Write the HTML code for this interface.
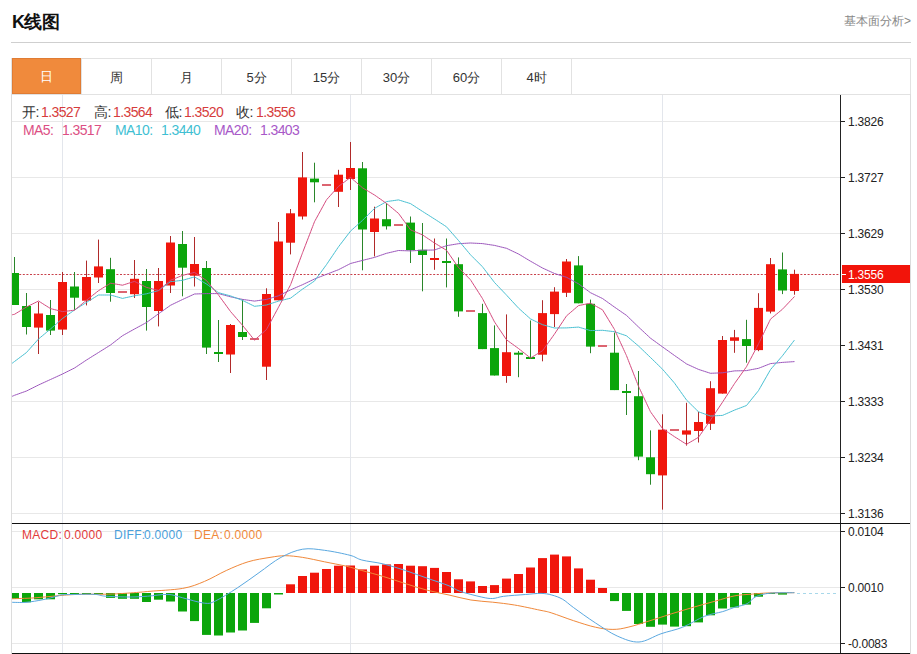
<!DOCTYPE html>
<html><head><meta charset="utf-8"><style>
*{margin:0;padding:0;box-sizing:border-box}
html,body{width:917px;height:654px;overflow:hidden;background:#fff;font-family:"Liberation Sans",sans-serif;color:#333}
#title{position:absolute;left:12px;top:11px;font-size:18px;letter-spacing:-0.6px;font-weight:bold;color:#111;line-height:22px}
#more{position:absolute;left:844px;top:13px;font-size:12px;color:#888;line-height:16px}
#hr{position:absolute;left:11px;top:42px;width:900px;height:1px;background:#cfcfcf}
#tabs{position:absolute;left:11px;top:58px;width:900px;height:37px;border:1px solid #e2e2e2;display:flex}
.tab{width:70px;height:35px;border-right:1px solid #e2e2e2;text-align:center;font-size:13px;line-height:37px;color:#333}
.tab.on{background:#f08a3c;color:#fff;position:relative}
#onbox{position:absolute;left:12px;top:58px;width:69px;height:36px;background:#f08a3c;border:1px solid #e07c34;color:#fff;text-align:center;font-size:13px;line-height:36px}
#frame{position:absolute;left:11px;top:94px;width:900px;height:560px;border-left:1px solid #dcdcdc;border-right:1px solid #dcdcdc}
svg{position:absolute;left:0;top:0}
.ax{font-size:12px;fill:#222;font-family:"Liberation Sans",sans-serif;letter-spacing:-0.2px}
.lg{position:absolute;font-size:14px;letter-spacing:-0.6px;line-height:16px;white-space:pre}
.ml{font-size:12px !important;letter-spacing:0.3px !important}
.k{color:#333} .r{color:#d63c3c}
</style></head><body>
<div id="title">K线图</div>
<div id="more">基本面分析&gt;</div>
<div id="hr"></div>
<div id="tabs"><div class="tab on">日</div><div class="tab">周</div><div class="tab">月</div><div class="tab">5分</div><div class="tab">15分</div><div class="tab">30分</div><div class="tab">60分</div><div class="tab">4时</div></div>
<div id="onbox">日</div>
<div id="frame"></div>
<svg width="917" height="654" viewBox="0 0 917 654">
<defs><clipPath id="cm"><rect x="12" y="95" width="828" height="428"/></clipPath><clipPath id="cd"><rect x="12" y="524" width="828" height="129"/></clipPath></defs>
<line x1="12" y1="121.5" x2="840" y2="121.5" stroke="#e8e8e8" stroke-width="1"/>
<line x1="12" y1="177.5" x2="840" y2="177.5" stroke="#e8e8e8" stroke-width="1"/>
<line x1="12" y1="233.5" x2="840" y2="233.5" stroke="#e8e8e8" stroke-width="1"/>
<line x1="12" y1="289.5" x2="840" y2="289.5" stroke="#e8e8e8" stroke-width="1"/>
<line x1="12" y1="345.5" x2="840" y2="345.5" stroke="#e8e8e8" stroke-width="1"/>
<line x1="12" y1="401.5" x2="840" y2="401.5" stroke="#e8e8e8" stroke-width="1"/>
<line x1="12" y1="457.5" x2="840" y2="457.5" stroke="#e8e8e8" stroke-width="1"/>
<line x1="12" y1="513.5" x2="840" y2="513.5" stroke="#e8e8e8" stroke-width="1"/>
<line x1="12" y1="531.5" x2="840" y2="531.5" stroke="#e8e8e8" stroke-width="1"/>
<line x1="12" y1="587.5" x2="840" y2="587.5" stroke="#e8e8e8" stroke-width="1"/>
<line x1="12" y1="643.5" x2="840" y2="643.5" stroke="#e8e8e8" stroke-width="1"/>
<line x1="62.5" y1="95" x2="62.5" y2="653" stroke="#e3e6ec" stroke-width="1"/>
<line x1="350.5" y1="95" x2="350.5" y2="653" stroke="#e3e6ec" stroke-width="1"/>
<line x1="662.5" y1="95" x2="662.5" y2="653" stroke="#e3e6ec" stroke-width="1"/>
<line x1="12" y1="274.5" x2="840" y2="274.5" stroke="#c8404a" stroke-width="1" stroke-dasharray="2,1.6"/>
<g clip-path="url(#cm)">
<rect x="14" y="257" width="1" height="48" fill="#2a862a"/>
<rect x="10" y="273" width="9" height="32" fill="#0ba50b"/>
<rect x="26" y="293" width="1" height="41.5" fill="#2a862a"/>
<rect x="22" y="306" width="9" height="21" fill="#0ba50b"/>
<rect x="38" y="302" width="1" height="52" fill="#b02a2a"/>
<rect x="34" y="313.5" width="9" height="14.1" fill="#f0160c"/>
<rect x="50" y="300" width="1" height="35" fill="#2a862a"/>
<rect x="46" y="315" width="9" height="15.6" fill="#0ba50b"/>
<rect x="62" y="272" width="1" height="63" fill="#b02a2a"/>
<rect x="58" y="282" width="9" height="47.6" fill="#f0160c"/>
<rect x="74" y="272" width="1" height="38" fill="#2a862a"/>
<rect x="70" y="286.5" width="9" height="11.2" fill="#0ba50b"/>
<rect x="86" y="260.6" width="1" height="44.8" fill="#b02a2a"/>
<rect x="82" y="277" width="9" height="23.7" fill="#f0160c"/>
<rect x="98" y="239.6" width="1" height="43.4" fill="#b02a2a"/>
<rect x="94" y="266.4" width="9" height="11.1" fill="#f0160c"/>
<rect x="110" y="257.8" width="1" height="43.9" fill="#2a862a"/>
<rect x="106" y="269.2" width="9" height="23.8" fill="#0ba50b"/>
<rect x="118" y="291" width="9" height="2" fill="#dc6470"/>
<rect x="134" y="260" width="1" height="38" fill="#b02a2a"/>
<rect x="130" y="278.8" width="9" height="15.4" fill="#f0160c"/>
<rect x="146" y="269" width="1" height="61.6" fill="#2a862a"/>
<rect x="142" y="281" width="9" height="26" fill="#0ba50b"/>
<rect x="158" y="268" width="1" height="58.4" fill="#b02a2a"/>
<rect x="154" y="281" width="9" height="30" fill="#f0160c"/>
<rect x="170" y="236" width="1" height="57" fill="#b02a2a"/>
<rect x="166" y="242.5" width="9" height="43" fill="#f0160c"/>
<rect x="182" y="231" width="1" height="65.3" fill="#2a862a"/>
<rect x="178" y="244" width="9" height="23.7" fill="#0ba50b"/>
<rect x="194" y="237" width="1" height="49.5" fill="#b02a2a"/>
<rect x="190" y="264" width="9" height="11.7" fill="#f0160c"/>
<rect x="206" y="261" width="1" height="93" fill="#2a862a"/>
<rect x="202" y="268" width="9" height="79.6" fill="#0ba50b"/>
<rect x="218" y="320" width="1" height="42" fill="#2a862a"/>
<rect x="214" y="352" width="9" height="2" fill="#0ba50b"/>
<rect x="230" y="324" width="1" height="49" fill="#b02a2a"/>
<rect x="226" y="325" width="9" height="29.5" fill="#f0160c"/>
<rect x="242" y="299.5" width="1" height="40.5" fill="#2a862a"/>
<rect x="238" y="332" width="9" height="5" fill="#0ba50b"/>
<rect x="250" y="338" width="9" height="2" fill="#dc6470"/>
<rect x="266" y="288.3" width="1" height="91.7" fill="#b02a2a"/>
<rect x="262" y="294" width="9" height="72.7" fill="#f0160c"/>
<rect x="278" y="222" width="1" height="78.3" fill="#b02a2a"/>
<rect x="274" y="241.5" width="9" height="58.8" fill="#f0160c"/>
<rect x="290" y="209" width="1" height="45.4" fill="#b02a2a"/>
<rect x="286" y="213.3" width="9" height="29.4" fill="#f0160c"/>
<rect x="302" y="152" width="1" height="67.5" fill="#b02a2a"/>
<rect x="298" y="177.4" width="9" height="39.1" fill="#f0160c"/>
<rect x="314" y="162.7" width="1" height="39.6" fill="#2a862a"/>
<rect x="310" y="178.6" width="9" height="3.7" fill="#0ba50b"/>
<rect x="322" y="184" width="9" height="2" fill="#dc6470"/>
<rect x="338" y="169.8" width="1" height="37.2" fill="#b02a2a"/>
<rect x="334" y="174.7" width="9" height="17.1" fill="#f0160c"/>
<rect x="350" y="142" width="1" height="48" fill="#b02a2a"/>
<rect x="346" y="168" width="9" height="11" fill="#f0160c"/>
<rect x="362" y="162" width="1" height="108.3" fill="#2a862a"/>
<rect x="358" y="168.3" width="9" height="61.2" fill="#0ba50b"/>
<rect x="374" y="206.7" width="1" height="49.7" fill="#b02a2a"/>
<rect x="370" y="218.5" width="9" height="13.5" fill="#f0160c"/>
<rect x="386" y="203.3" width="1" height="26.2" fill="#2a862a"/>
<rect x="382" y="219.2" width="9" height="7.1" fill="#0ba50b"/>
<rect x="394" y="224" width="9" height="2" fill="#dc6470"/>
<rect x="410" y="216.5" width="1" height="46.5" fill="#2a862a"/>
<rect x="406" y="222.6" width="9" height="27.6" fill="#0ba50b"/>
<rect x="422" y="223" width="1" height="68.3" fill="#2a862a"/>
<rect x="418" y="249.8" width="9" height="5.2" fill="#0ba50b"/>
<rect x="434" y="238.5" width="1" height="31.3" fill="#b02a2a"/>
<rect x="430" y="258" width="9" height="2" fill="#f0160c"/>
<rect x="446" y="238.5" width="1" height="48.9" fill="#2a862a"/>
<rect x="442" y="261" width="9" height="2" fill="#0ba50b"/>
<rect x="458" y="257.4" width="1" height="59.4" fill="#2a862a"/>
<rect x="454" y="264.2" width="9" height="47.2" fill="#0ba50b"/>
<rect x="466" y="310" width="9" height="2" fill="#dc6470"/>
<rect x="482" y="303.8" width="1" height="45.3" fill="#2a862a"/>
<rect x="478" y="313.1" width="9" height="36" fill="#0ba50b"/>
<rect x="494" y="325.4" width="1" height="50.1" fill="#2a862a"/>
<rect x="490" y="348.1" width="9" height="27.4" fill="#0ba50b"/>
<rect x="506" y="314.4" width="1" height="68.4" fill="#b02a2a"/>
<rect x="502" y="352.2" width="9" height="23.8" fill="#f0160c"/>
<rect x="518" y="351" width="1" height="26.2" fill="#2a862a"/>
<rect x="514" y="352.7" width="9" height="2" fill="#0ba50b"/>
<rect x="530" y="320.5" width="1" height="38" fill="#2a862a"/>
<rect x="526" y="357" width="9" height="2" fill="#0ba50b"/>
<rect x="542" y="300.2" width="1" height="61.1" fill="#b02a2a"/>
<rect x="538" y="313.1" width="9" height="41.6" fill="#f0160c"/>
<rect x="554" y="287.2" width="1" height="39.8" fill="#b02a2a"/>
<rect x="550" y="291.6" width="9" height="22.5" fill="#f0160c"/>
<rect x="566" y="259" width="1" height="38" fill="#b02a2a"/>
<rect x="562" y="261.5" width="9" height="31.3" fill="#f0160c"/>
<rect x="578" y="256.1" width="1" height="47.2" fill="#2a862a"/>
<rect x="574" y="265.4" width="9" height="37.9" fill="#0ba50b"/>
<rect x="590" y="299.6" width="1" height="53.6" fill="#2a862a"/>
<rect x="586" y="303.8" width="9" height="42.8" fill="#0ba50b"/>
<rect x="598" y="345" width="9" height="2" fill="#dc6470"/>
<rect x="614" y="332.6" width="1" height="57.5" fill="#2a862a"/>
<rect x="610" y="352.7" width="9" height="37.4" fill="#0ba50b"/>
<rect x="626" y="384" width="1" height="31" fill="#2a862a"/>
<rect x="622" y="391" width="9" height="2" fill="#0ba50b"/>
<rect x="638" y="371" width="1" height="89.2" fill="#2a862a"/>
<rect x="634" y="396.2" width="9" height="60.4" fill="#0ba50b"/>
<rect x="650" y="430.4" width="1" height="54.3" fill="#2a862a"/>
<rect x="646" y="457.3" width="9" height="16.9" fill="#0ba50b"/>
<rect x="662" y="414.3" width="1" height="95.3" fill="#b02a2a"/>
<rect x="658" y="429.7" width="9" height="45.7" fill="#f0160c"/>
<rect x="670" y="429" width="9" height="2" fill="#dc6470"/>
<rect x="686" y="402.8" width="1" height="42.8" fill="#b02a2a"/>
<rect x="682" y="430.4" width="9" height="4.2" fill="#f0160c"/>
<rect x="698" y="411.8" width="1" height="30.7" fill="#b02a2a"/>
<rect x="694" y="422" width="9" height="9" fill="#f0160c"/>
<rect x="710" y="381.2" width="1" height="48.8" fill="#b02a2a"/>
<rect x="706" y="388.2" width="9" height="35.6" fill="#f0160c"/>
<rect x="722" y="336" width="1" height="57.6" fill="#b02a2a"/>
<rect x="718" y="340" width="9" height="53.6" fill="#f0160c"/>
<rect x="734" y="329.9" width="1" height="22.9" fill="#b02a2a"/>
<rect x="730" y="337.3" width="9" height="3.5" fill="#f0160c"/>
<rect x="746" y="319.8" width="1" height="42.9" fill="#2a862a"/>
<rect x="742" y="339.1" width="9" height="6.9" fill="#0ba50b"/>
<rect x="758" y="293.2" width="1" height="58" fill="#b02a2a"/>
<rect x="754" y="307.9" width="9" height="42.2" fill="#f0160c"/>
<rect x="770" y="258" width="1" height="55.4" fill="#b02a2a"/>
<rect x="766" y="264.2" width="9" height="47.4" fill="#f0160c"/>
<rect x="782" y="252.5" width="1" height="41.6" fill="#2a862a"/>
<rect x="778" y="269.4" width="9" height="21.1" fill="#0ba50b"/>
<rect x="794" y="269.7" width="1" height="25" fill="#b02a2a"/>
<rect x="790" y="273.9" width="9" height="17.1" fill="#f0160c"/>
<path fill="none" stroke="#9c56bc" stroke-width="1.0" d="M12,396.4 C12,396.4 14.5,395.3 14.5,395.3 C14.5,395.3 26.5,391 26.5,391 C26.5,391 38.5,385 38.5,385 C38.5,385 50.5,379.5 50.5,379.5 C50.5,379.5 62.5,374 62.5,374 C62.5,374 74.5,368 74.5,368 C74.5,368 86.5,360 86.5,360 C86.5,360 98.5,352.5 98.5,352.5 C98.5,352.5 110.5,345 110.5,345 C110.5,345 122.5,335.7 122.5,335.7 C122.5,335.7 134.5,329 134.5,329 C134.5,329 146.5,322.5 146.5,322.5 C146.5,322.5 158.5,313.8 158.5,313.8 C158.5,313.8 170.5,305.3 170.5,305.3 C170.5,305.3 182.5,299.5 182.5,299.5 C182.5,299.5 194.5,294 194.5,294 C194.5,294 206.5,293.6 206.5,293.6 C206.5,293.6 218.5,293.6 218.5,293.6 C218.5,293.6 230.5,296.8 230.5,296.8 C230.5,296.8 242.5,299.4 242.5,299.4 C242.5,299.4 254.5,301.1 254.5,301.1 C254.5,301.1 266.5,299.4 266.5,299.4 C266.5,299.4 278.5,295.8 278.5,295.8 C278.5,295.8 290.5,289.9 290.5,289.9 C290.5,289.9 302.5,284.7 302.5,284.7 C302.5,284.7 314.5,279 314.5,279 C314.5,279 326.5,274.3 326.5,274.3 C326.5,274.3 338.5,269.7 338.5,269.7 C338.5,269.7 350.5,263.5 350.5,263.5 C350.5,263.5 362.5,260.4 362.5,260.4 C362.5,260.4 374.5,257.4 374.5,257.4 C374.5,257.4 386.5,253.3 386.5,253.3 C386.5,253.3 398.5,250.5 398.5,250.5 C398.5,250.5 410.5,250.9 410.5,250.9 C410.5,250.9 422.5,250.2 422.5,250.2 C422.5,250.2 434.5,250 434.5,250 C434.5,250 446.5,245.7 446.5,245.7 C446.5,245.7 458.5,243.7 458.5,243.7 C458.5,243.7 470.5,243 470.5,243 C470.5,243 482.5,243.6 482.5,243.6 C482.5,243.6 494.5,245.4 494.5,245.4 C494.5,245.4 506.5,248.3 506.5,248.3 C506.5,248.3 518.5,254 518.5,254 C518.5,254 530.5,261.2 530.5,261.2 C530.5,261.2 542.5,268 542.5,268 C542.5,268 554.5,273.5 554.5,273.5 C554.5,273.5 566.5,277.3 566.5,277.3 C566.5,277.3 578.5,283.8 578.5,283.8 C578.5,283.8 590.5,292.7 590.5,292.7 C590.5,292.7 602.5,298.5 602.5,298.5 C602.5,298.5 614.5,307.1 614.5,307.1 C614.5,307.1 626.5,315.4 626.5,315.4 C626.5,315.4 638.5,327 638.5,327 C638.5,327 650.5,338.2 650.5,338.2 C650.5,338.2 662.5,346.9 662.5,346.9 C662.5,346.9 674.5,355.5 674.5,355.5 C674.5,355.5 686.5,363.9 686.5,363.9 C686.5,363.9 698.5,369.4 698.5,369.4 C698.5,369.4 710.5,373.3 710.5,373.3 C710.5,373.3 722.5,372.8 722.5,372.8 C722.5,372.8 734.5,370.9 734.5,370.9 C734.5,370.9 746.5,370.6 746.5,370.6 C746.5,370.6 758.5,368.3 758.5,368.3 C758.5,368.3 770.5,363.6 770.5,363.6 C770.5,363.6 782.5,362.4 782.5,362.4 C782.5,362.4 794.5,361.6 794.5,361.6"/>
<path fill="none" stroke="#48c0d2" stroke-width="1.0" d="M12,363.4 C12,363.4 14.5,361.5 14.5,361.5 C14.5,361.5 26.5,352.5 26.5,352.5 C26.5,352.5 38.5,339 38.5,339 C38.5,339 50.5,329 50.5,329 C50.5,329 62.5,318.5 62.5,318.5 C62.5,318.5 74.5,310 74.5,310 C74.5,310 86.5,302.4 86.5,302.4 C86.5,302.4 98.5,295 98.5,295 C98.5,295 110.5,295 110.5,295 C110.5,295 122.5,298.4 122.5,298.4 C122.5,298.4 134.5,295.8 134.5,295.8 C134.5,295.8 146.5,293.8 146.5,293.8 C146.5,293.8 158.5,290.6 158.5,290.6 C158.5,290.6 170.5,281.7 170.5,281.7 C170.5,281.7 182.5,280.3 182.5,280.3 C182.5,280.3 194.5,276.9 194.5,276.9 C194.5,276.9 206.5,284 206.5,284 C206.5,284 218.5,292.7 218.5,292.7 C218.5,292.7 230.5,295.9 230.5,295.9 C230.5,295.9 242.5,300.4 242.5,300.4 C242.5,300.4 254.5,306.3 254.5,306.3 C254.5,306.3 266.5,305 266.5,305 C266.5,305 278.5,301.1 278.5,301.1 C278.5,301.1 290.5,298.2 290.5,298.2 C290.5,298.2 302.5,289.1 302.5,289.1 C302.5,289.1 314.5,281 314.5,281 C314.5,281 326.5,264.6 326.5,264.6 C326.5,264.6 338.5,246.8 338.5,246.8 C338.5,246.8 350.5,231.1 350.5,231.1 C350.5,231.1 362.5,220.4 362.5,220.4 C362.5,220.4 374.5,208.4 374.5,208.4 C374.5,208.4 386.5,201.6 386.5,201.6 C386.5,201.6 398.5,199.9 398.5,199.9 C398.5,199.9 410.5,203.6 410.5,203.6 C410.5,203.6 422.5,211.4 422.5,211.4 C422.5,211.4 434.5,219 434.5,219 C434.5,219 446.5,226.8 446.5,226.8 C446.5,226.8 458.5,240.5 458.5,240.5 C458.5,240.5 470.5,254.8 470.5,254.8 C470.5,254.8 482.5,266.8 482.5,266.8 C482.5,266.8 494.5,282.5 494.5,282.5 C494.5,282.5 506.5,295.1 506.5,295.1 C506.5,295.1 518.5,308.1 518.5,308.1 C518.5,308.1 530.5,318.9 530.5,318.9 C530.5,318.9 542.5,324.7 542.5,324.7 C542.5,324.7 554.5,328 554.5,328 C554.5,328 566.5,327.9 566.5,327.9 C566.5,327.9 578.5,327.1 578.5,327.1 C578.5,327.1 590.5,330.6 590.5,330.6 C590.5,330.6 602.5,330.3 602.5,330.3 C602.5,330.3 614.5,331.7 614.5,331.7 C614.5,331.7 626.5,335.8 626.5,335.8 C626.5,335.8 638.5,346 638.5,346 C638.5,346 650.5,357.5 650.5,357.5 C650.5,357.5 662.5,369.2 662.5,369.2 C662.5,369.2 674.5,383.1 674.5,383.1 C674.5,383.1 686.5,400 686.5,400 C686.5,400 698.5,411.8 698.5,411.8 C698.5,411.8 710.5,416 710.5,416 C710.5,416 722.5,415.4 722.5,415.4 C722.5,415.4 734.5,410.1 734.5,410.1 C734.5,410.1 746.5,405.5 746.5,405.5 C746.5,405.5 758.5,390.6 758.5,390.6 C758.5,390.6 770.5,369.6 770.5,369.6 C770.5,369.6 782.5,355.7 782.5,355.7 C782.5,355.7 794.5,340 794.5,340"/>
<path fill="none" stroke="#d44a7e" stroke-width="1.0" d="M12,314.8 C12,314.8 14.5,314.3 14.5,314.3 C14.5,314.3 26.5,307 26.5,307 C26.5,307 38.5,301 38.5,301 C38.5,301 50.5,308.6 50.5,308.6 C50.5,308.6 62.5,311.6 62.5,311.6 C62.5,311.6 74.5,310.2 74.5,310.2 C74.5,310.2 86.5,300.2 86.5,300.2 C86.5,300.2 98.5,290.7 98.5,290.7 C98.5,290.7 110.5,283.2 110.5,283.2 C110.5,283.2 122.5,285.2 122.5,285.2 C122.5,285.2 134.5,281.4 134.5,281.4 C134.5,281.4 146.5,287.4 146.5,287.4 C146.5,287.4 158.5,290.4 158.5,290.4 C158.5,290.4 170.5,280.3 170.5,280.3 C170.5,280.3 182.5,275.4 182.5,275.4 C182.5,275.4 194.5,272.4 194.5,272.4 C194.5,272.4 206.5,280.6 206.5,280.6 C206.5,280.6 218.5,295 218.5,295 C218.5,295 230.5,311.5 230.5,311.5 C230.5,311.5 242.5,325.3 242.5,325.3 C242.5,325.3 254.5,340.2 254.5,340.2 C254.5,340.2 266.5,329.5 266.5,329.5 C266.5,329.5 278.5,307.2 278.5,307.2 C278.5,307.2 290.5,284.9 290.5,284.9 C290.5,284.9 302.5,252.9 302.5,252.9 C302.5,252.9 314.5,221.7 314.5,221.7 C314.5,221.7 326.5,199.8 326.5,199.8 C326.5,199.8 338.5,186.4 338.5,186.4 C338.5,186.4 350.5,177.4 350.5,177.4 C350.5,177.4 362.5,187.8 362.5,187.8 C362.5,187.8 374.5,195 374.5,195 C374.5,195 386.5,203.4 386.5,203.4 C386.5,203.4 398.5,213.4 398.5,213.4 C398.5,213.4 410.5,229.8 410.5,229.8 C410.5,229.8 422.5,234.9 422.5,234.9 C422.5,234.9 434.5,243 434.5,243 C434.5,243 446.5,250.3 446.5,250.3 C446.5,250.3 458.5,267.6 458.5,267.6 C458.5,267.6 470.5,279.8 470.5,279.8 C470.5,279.8 482.5,298.6 482.5,298.6 C482.5,298.6 494.5,321.9 494.5,321.9 C494.5,321.9 506.5,339.8 506.5,339.8 C506.5,339.8 518.5,348.5 518.5,348.5 C518.5,348.5 530.5,358 530.5,358 C530.5,358 542.5,350.8 542.5,350.8 C542.5,350.8 554.5,334 554.5,334 C554.5,334 566.5,315.9 566.5,315.9 C566.5,315.9 578.5,305.6 578.5,305.6 C578.5,305.6 590.5,303.2 590.5,303.2 C590.5,303.2 602.5,309.8 602.5,309.8 C602.5,309.8 614.5,329.5 614.5,329.5 C614.5,329.5 626.5,355.7 626.5,355.7 C626.5,355.7 638.5,386.3 638.5,386.3 C638.5,386.3 650.5,411.8 650.5,411.8 C650.5,411.8 662.5,428.6 662.5,428.6 C662.5,428.6 674.5,436.7 674.5,436.7 C674.5,436.7 686.5,444.3 686.5,444.3 C686.5,444.3 698.5,437.3 698.5,437.3 C698.5,437.3 710.5,420.1 710.5,420.1 C710.5,420.1 722.5,402.2 722.5,402.2 C722.5,402.2 734.5,383.6 734.5,383.6 C734.5,383.6 746.5,366.7 746.5,366.7 C746.5,366.7 758.5,343.9 758.5,343.9 C758.5,343.9 770.5,319.1 770.5,319.1 C770.5,319.1 782.5,309.2 782.5,309.2 C782.5,309.2 794.5,296.5 794.5,296.5"/>
</g>
<g clip-path="url(#cd)">
<rect x="10" y="593" width="9" height="5.8" fill="#0ba50b"/>
<rect x="22" y="593" width="9" height="9.3" fill="#0ba50b"/>
<rect x="34" y="593" width="9" height="6.3" fill="#0ba50b"/>
<rect x="46" y="593" width="9" height="6.3" fill="#0ba50b"/>
<rect x="58" y="593" width="9" height="1.2" fill="#0ba50b"/>
<rect x="70" y="593" width="9" height="1.2" fill="#0ba50b"/>
<rect x="82" y="593" width="9" height="1" fill="#0ba50b"/>
<rect x="94" y="593" width="9" height="1.2" fill="#0ba50b"/>
<rect x="106" y="593" width="9" height="4.9" fill="#0ba50b"/>
<rect x="118" y="593" width="9" height="5.8" fill="#0ba50b"/>
<rect x="130" y="593" width="9" height="5.8" fill="#0ba50b"/>
<rect x="142" y="593" width="9" height="9" fill="#0ba50b"/>
<rect x="154" y="593" width="9" height="6.7" fill="#0ba50b"/>
<rect x="166" y="593" width="9" height="8.5" fill="#0ba50b"/>
<rect x="178" y="593" width="9" height="18.5" fill="#0ba50b"/>
<rect x="190" y="593" width="9" height="28.1" fill="#0ba50b"/>
<rect x="202" y="593" width="9" height="41.9" fill="#0ba50b"/>
<rect x="214" y="593" width="9" height="42.5" fill="#0ba50b"/>
<rect x="226" y="593" width="9" height="39.5" fill="#0ba50b"/>
<rect x="238" y="593" width="9" height="37.5" fill="#0ba50b"/>
<rect x="250" y="593" width="9" height="29.9" fill="#0ba50b"/>
<rect x="262" y="593" width="9" height="15.3" fill="#0ba50b"/>
<rect x="274" y="593" width="9" height="1.5" fill="#0ba50b"/>
<rect x="286" y="584.3" width="9" height="8.7" fill="#f0160c"/>
<rect x="298" y="576" width="9" height="17" fill="#f0160c"/>
<rect x="310" y="572.7" width="9" height="20.3" fill="#f0160c"/>
<rect x="322" y="569" width="9" height="24" fill="#f0160c"/>
<rect x="334" y="565.7" width="9" height="27.3" fill="#f0160c"/>
<rect x="346" y="565.5" width="9" height="27.5" fill="#f0160c"/>
<rect x="358" y="569.4" width="9" height="23.6" fill="#f0160c"/>
<rect x="370" y="565.7" width="9" height="27.3" fill="#f0160c"/>
<rect x="382" y="564.4" width="9" height="28.6" fill="#f0160c"/>
<rect x="394" y="564" width="9" height="29" fill="#f0160c"/>
<rect x="406" y="565.7" width="9" height="27.3" fill="#f0160c"/>
<rect x="418" y="566.2" width="9" height="26.8" fill="#f0160c"/>
<rect x="430" y="567.9" width="9" height="25.1" fill="#f0160c"/>
<rect x="442" y="572" width="9" height="21" fill="#f0160c"/>
<rect x="454" y="579.3" width="9" height="13.7" fill="#f0160c"/>
<rect x="466" y="581.4" width="9" height="11.6" fill="#f0160c"/>
<rect x="478" y="586" width="9" height="7" fill="#f0160c"/>
<rect x="490" y="585.1" width="9" height="7.9" fill="#f0160c"/>
<rect x="502" y="578.6" width="9" height="14.4" fill="#f0160c"/>
<rect x="514" y="574" width="9" height="19" fill="#f0160c"/>
<rect x="526" y="567.5" width="9" height="25.5" fill="#f0160c"/>
<rect x="538" y="558.1" width="9" height="34.9" fill="#f0160c"/>
<rect x="550" y="554.6" width="9" height="38.4" fill="#f0160c"/>
<rect x="562" y="556.4" width="9" height="36.6" fill="#f0160c"/>
<rect x="574" y="568.4" width="9" height="24.6" fill="#f0160c"/>
<rect x="586" y="579.7" width="9" height="13.3" fill="#f0160c"/>
<rect x="598" y="588" width="9" height="5" fill="#f0160c"/>
<rect x="610" y="593" width="9" height="8.1" fill="#0ba50b"/>
<rect x="622" y="593" width="9" height="17.9" fill="#0ba50b"/>
<rect x="634" y="593" width="9" height="31" fill="#0ba50b"/>
<rect x="646" y="593" width="9" height="33.8" fill="#0ba50b"/>
<rect x="658" y="593" width="9" height="31.6" fill="#0ba50b"/>
<rect x="670" y="593" width="9" height="33.6" fill="#0ba50b"/>
<rect x="682" y="593" width="9" height="33.2" fill="#0ba50b"/>
<rect x="694" y="593" width="9" height="29.4" fill="#0ba50b"/>
<rect x="706" y="593" width="9" height="22.3" fill="#0ba50b"/>
<rect x="718" y="593" width="9" height="15.5" fill="#0ba50b"/>
<rect x="730" y="593" width="9" height="14.5" fill="#0ba50b"/>
<rect x="742" y="593" width="9" height="11.6" fill="#0ba50b"/>
<rect x="754" y="593" width="9" height="3.7" fill="#0ba50b"/>
<rect x="766" y="593" width="9" height="1" fill="#0ba50b"/>
<rect x="778" y="593" width="9" height="1.6" fill="#0ba50b"/>
<path fill="none" stroke="#f0883a" stroke-width="1" d="M11.5,598.8 C15.3,598.6 26.6,598.4 34.2,597.9 C41.8,597.4 49.6,596.4 56.9,595.8 C64.2,595.2 68.5,594.7 77.8,594.4 C87.1,594.1 102.5,594.4 112.7,594 C122.9,593.6 132.7,592.8 138.9,592.3 C145.1,591.8 142.7,591.9 150,591.3 C157.3,590.6 173.6,590 182.7,588.4 C191.8,586.8 197.2,584.4 204.5,581.4 C211.8,578.4 219,573.8 226.3,570.5 C233.6,567.2 240.8,564 248.1,561.8 C255.4,559.6 263.8,558.4 270,557.4 C276.2,556.4 279.8,555.7 285.2,555.7 C290.6,555.7 296.1,556.4 302.7,557.4 C309.2,558.4 317.2,560.3 324.5,561.8 C331.8,563.3 340.1,564.8 346.3,566.2 C352.5,567.7 355.6,568.8 361.8,570.5 C368,572.2 376.3,574.4 383.6,576.6 C390.9,578.8 398.1,581.3 405.4,583.6 C412.7,585.9 419.9,588.3 427.2,590.2 C434.5,592.1 441.7,593.4 449,595 C456.3,596.6 463.6,598.8 470.9,600 C478.2,601.2 485.4,601.4 492.7,602.2 C500,603 506.6,603.7 514.5,605 C522.4,606.3 533.8,608.9 540,610.2 C546.2,611.5 546.2,611.2 551.8,613 C557.4,614.8 566.3,618.3 573.6,620.7 C580.9,623.1 588.9,625.8 595.4,627.2 C601.9,628.7 607.4,629.4 612.9,629.4 C618.4,629.4 621.9,628.7 628.1,627.2 C634.3,625.8 642.7,623 650,620.7 C657.3,618.5 664.5,616 671.8,613.7 C679.1,611.5 686.3,609.3 693.6,607.2 C700.9,605.1 708.5,603 715.4,601.1 C722.3,599.2 728.7,597 734.9,595.8 C741.1,594.6 746.6,594.6 752.4,594.1 C758.2,593.6 762.8,593.1 769.8,592.9 C776.8,592.7 790.3,592.7 794.4,592.7"/>
<path fill="none" stroke="#5aa8e0" stroke-width="1" d="M11.5,602.3 C13.9,602.3 20.8,602.7 26,602.3 C31.2,601.9 37.8,600.7 42.9,599.7 C48,598.7 53.7,597 56.9,596.2 C60.1,595.4 58.6,595.1 62,594.8 C65.3,594.5 71.5,594.5 77,594.4 C82.5,594.3 90.5,594.1 95.3,594.4 C100.1,594.7 99.9,595.8 105.7,596.2 C111.5,596.6 123.2,597 130.2,597 C137.2,597 141.3,596.6 147.6,596.2 C153.9,595.8 162.2,594.1 168,594.4 C173.8,594.7 176.6,596.3 182.7,597.8 C188.8,599.3 199.1,602.7 204.5,603.2 C209.9,603.7 210,603.5 215.4,601 C220.8,598.5 229.9,592.7 237.2,588 C244.5,583.3 251.7,577.8 259,572.7 C266.3,567.6 273.6,561.3 280.9,557.4 C288.2,553.5 295.4,550.4 302.7,549.2 C310,548 316.6,549.3 324.5,550.3 C332.4,551.3 343.8,553.7 350,555.3 C356.2,556.9 356.2,558.5 361.8,560 C367.4,561.5 376.3,562.2 383.6,564 C390.9,565.8 398.1,568.1 405.4,570.5 C412.7,572.9 419.9,575.7 427.2,578.2 C434.5,580.8 443.5,583.6 449,585.8 C454.5,588 454.5,589.4 460,591.3 C465.5,593.2 476.4,595.9 481.8,597.1 C487.2,598.3 489.1,598.6 492.7,598.5 C496.3,598.4 498.2,597 503.6,596.3 C509.1,595.6 519.2,595 525.4,594.5 C531.6,594 536.6,593.3 541,593.4 C545.4,593.5 548.2,594 551.8,595 C555.4,596 559.1,597.2 562.7,599.3 C566.3,601.4 568.2,603.7 573.6,607.6 C579,611.5 588.1,618.2 595.4,622.9 C602.7,627.6 609.9,632.8 617.2,636 C624.5,639.2 631.7,642.4 639,642 C646.3,641.6 653.6,636.3 660.9,633.8 C668.2,631.3 675.4,630.1 682.7,627.2 C690,624.3 697.8,618.9 704.5,616.3 C711.2,613.7 717.6,613.1 722.7,611.6 C727.8,610.1 730.8,608.5 734.9,607.2 C739,605.9 743.6,605.5 747.1,603.7 C750.6,602 752,598.5 755.8,596.7 C759.6,595 763.4,593.9 769.8,593.2 C776.2,592.5 790.3,592.8 794.4,592.7"/>
<line x1="797" y1="593.5" x2="838" y2="593.5" stroke="#a8d8ea" stroke-width="1" stroke-dasharray="3,3"/>
</g>
<line x1="840.5" y1="95" x2="840.5" y2="653" stroke="#222" stroke-width="1"/>
<line x1="12" y1="523.5" x2="910" y2="523.5" stroke="#111" stroke-width="1"/>
<line x1="12" y1="653.5" x2="910" y2="653.5" stroke="#111" stroke-width="1"/>
<line x1="840" y1="121.5" x2="845" y2="121.5" stroke="#222" stroke-width="1"/>
<text x="848" y="125.5" class="ax">1.3826</text>
<line x1="840" y1="177.5" x2="845" y2="177.5" stroke="#222" stroke-width="1"/>
<text x="848" y="181.5" class="ax">1.3727</text>
<line x1="840" y1="233.5" x2="845" y2="233.5" stroke="#222" stroke-width="1"/>
<text x="848" y="237.5" class="ax">1.3629</text>
<line x1="840" y1="289.5" x2="845" y2="289.5" stroke="#222" stroke-width="1"/>
<text x="848" y="293.5" class="ax">1.3530</text>
<line x1="840" y1="345.5" x2="845" y2="345.5" stroke="#222" stroke-width="1"/>
<text x="848" y="349.5" class="ax">1.3431</text>
<line x1="840" y1="401.5" x2="845" y2="401.5" stroke="#222" stroke-width="1"/>
<text x="848" y="405.5" class="ax">1.3333</text>
<line x1="840" y1="457.5" x2="845" y2="457.5" stroke="#222" stroke-width="1"/>
<text x="848" y="461.5" class="ax">1.3234</text>
<line x1="840" y1="513.5" x2="845" y2="513.5" stroke="#222" stroke-width="1"/>
<text x="848" y="517.5" class="ax">1.3136</text>
<line x1="840" y1="531.5" x2="845" y2="531.5" stroke="#222" stroke-width="1"/>
<text x="848" y="535.5" class="ax">0.0104</text>
<line x1="840" y1="587.5" x2="845" y2="587.5" stroke="#222" stroke-width="1"/>
<text x="848" y="591.5" class="ax">0.0010</text>
<line x1="840" y1="643.5" x2="845" y2="643.5" stroke="#222" stroke-width="1"/>
<text x="848" y="647.5" class="ax">-0.0083</text>
<rect x="842" y="265" width="68" height="18" fill="#f2140a"/>
<line x1="842" y1="274.5" x2="846" y2="274.5" stroke="#fff" stroke-width="1"/>
<text x="848" y="279" class="ax" style="fill:#fff">1.3556</text>
</svg>
<div class="lg k" style="left:22px;top:104px">开:</div><div class="lg r" style="left:41px;top:104px">1.3527</div>
<div class="lg k" style="left:94px;top:104px">高:</div><div class="lg r" style="left:113px;top:104px">1.3564</div>
<div class="lg k" style="left:165px;top:104px">低:</div><div class="lg r" style="left:184px;top:104px">1.3520</div>
<div class="lg k" style="left:236px;top:104px">收:</div><div class="lg r" style="left:256px;top:104px">1.3556</div>
<div class="lg" style="left:23px;top:122px;color:#dc4f84">MA5:</div><div class="lg" style="left:62px;top:122px;color:#dc4f84">1.3517</div>
<div class="lg" style="left:115px;top:122px;color:#3fbfd3">MA10:</div><div class="lg" style="left:161px;top:122px;color:#3fbfd3">1.3440</div>
<div class="lg" style="left:214px;top:122px;color:#a858c8">MA20:</div><div class="lg" style="left:260px;top:122px;color:#a858c8">1.3403</div>
<div class="lg ml" style="left:22px;top:527px;color:#e23a3a">MACD:</div><div class="lg ml" style="left:64px;top:527px;color:#e23a3a">0.0000</div>
<div class="lg ml" style="left:114px;top:527px;color:#4aa0dc">DIFF:</div><div class="lg ml" style="left:144px;top:527px;color:#4aa0dc">0.0000</div>
<div class="lg ml" style="left:194px;top:527px;color:#f0883a">DEA:</div><div class="lg ml" style="left:224px;top:527px;color:#f0883a">0.0000</div>
</body></html>
